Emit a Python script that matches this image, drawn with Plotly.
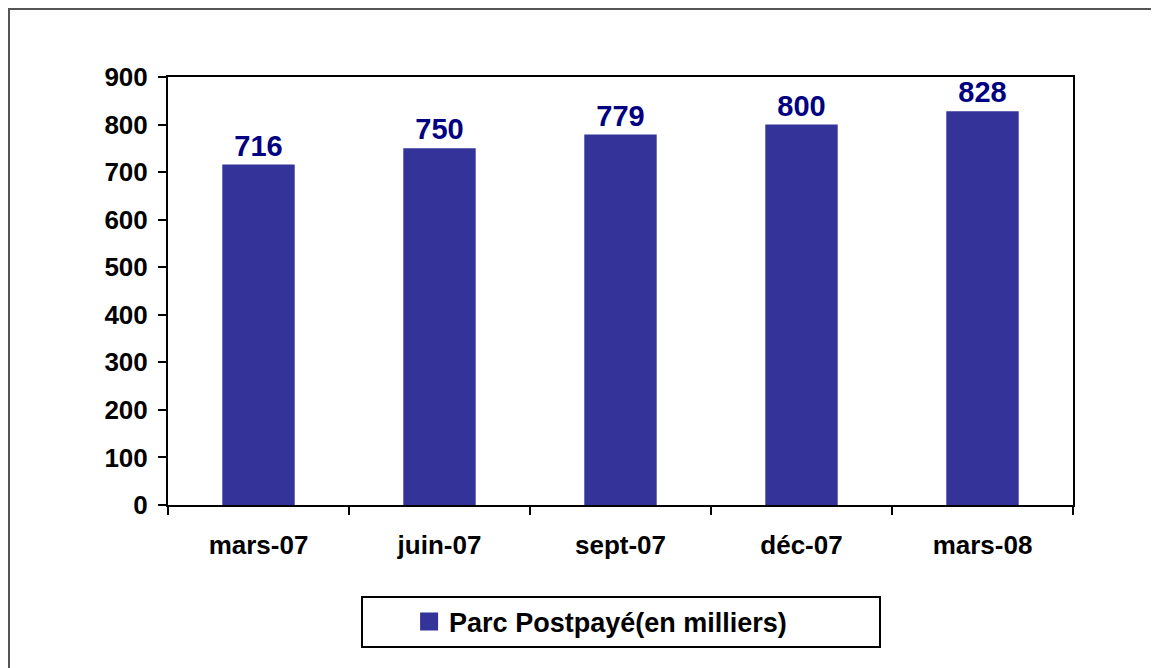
import plotly.graph_objects as go

categories = ["mars-07", "juin-07", "sept-07", "déc-07", "mars-08"]
values = [716, 750, 779, 800, 828]
series_name = "Parc Postpayé(en milliers)"
y_ticks = [0, 100, 200, 300, 400, 500, 600, 700, 800, 900]

FONT = "Liberation Sans, Arial, sans-serif"
BAR_COLOR = "#333399"

# page body adds an 8px margin, so the figure is laid out 8px smaller
W, H = 1151, 660
L, T = 160, 69
PW, PH = 905, 428

fig = go.Figure()
fig.add_trace(go.Bar(
    x=categories, y=values, name=series_name, showlegend=False,
    marker=dict(color=BAR_COLOR, line=dict(width=0)),
    text=values, textposition="outside", cliponaxis=False,
    textfont=dict(family=FONT, size=29, color="#000080", weight="bold"),
))
# legend entry with a larger square key
fig.add_trace(go.Scatter(
    x=[None], y=[None], mode="markers", name=series_name,
    marker=dict(symbol="square", size=20, color=BAR_COLOR,
                line=dict(color=BAR_COLOR, width=2)),
    hoverinfo="skip",
))

fig.update_layout(
    width=W, height=H,
    margin=dict(l=L, r=W - L - PW, t=T, b=H - T - PH),
    paper_bgcolor="white", plot_bgcolor="white",
    bargap=0.6,
    showlegend=True,
    legend=dict(
        orientation="h", x=0.478, xanchor="center", y=-0.273, yanchor="middle",
        font=dict(family=FONT, size=27, color="black", weight="bold"),
        bgcolor="rgba(0,0,0,0)", borderwidth=0,
    ),
    xaxis=dict(
        type="category", tickson="boundaries",
        showline=True, linecolor="black", linewidth=2, mirror=True,
        ticks="outside", ticklen=8, tickwidth=2, tickcolor="black",
        ticklabelstandoff=16,
        tickfont=dict(family=FONT, size=26, color="black", weight="bold"),
        showgrid=False,
    ),
    yaxis=dict(
        range=[0, 900], tickvals=y_ticks,
        showline=True, linecolor="black", linewidth=2, mirror=True,
        ticks="outside", ticklen=8, tickwidth=2, tickcolor="black",
        ticklabelstandoff=5,
        tickfont=dict(family=FONT, size=26, color="black", weight="bold"),
        showgrid=False, zeroline=False,
    ),
    shapes=[
        # outer chart frame (top-left visible)
        dict(type="rect", xref="paper", yref="paper",
             x0=-(L - 1) / PW, x1=1.3, y0=-0.6, y1=1 + (T - 1) / PH,
             line=dict(color="#555555", width=2), fillcolor="rgba(0,0,0,0)", layer="below"),
        # legend frame
        dict(type="rect", xref="paper", yref="paper",
             x0=(362 - 168) / PW, x1=(880 - 168) / PW,
             y0=(505 - 647) / PH, y1=(505 - 597) / PH,
             line=dict(color="black", width=2), fillcolor="rgba(0,0,0,0)"),
    ],
)

fig.write_html("out.html")
